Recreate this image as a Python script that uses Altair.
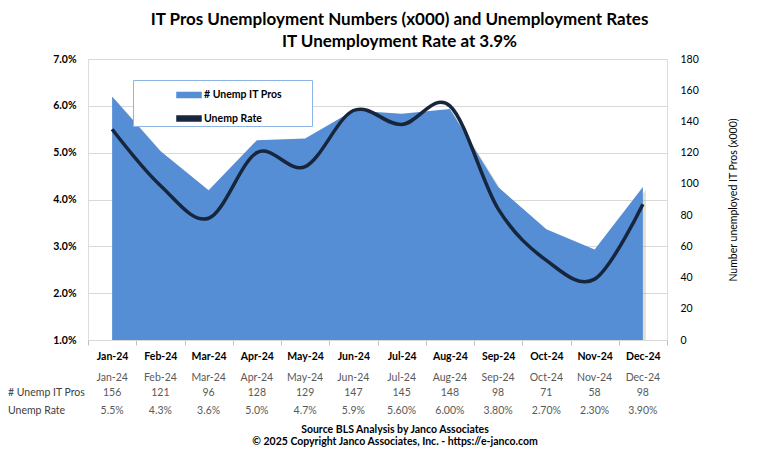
import altair as alt
import pandas as pd

months = ["Jan-24", "Feb-24", "Mar-24", "Apr-24", "May-24", "Jun-24",
          "Jul-24", "Aug-24", "Sep-24", "Oct-24", "Nov-24", "Dec-24"]
unemp_it_pros = [156, 121, 96, 128, 129, 147, 145, 148, 98, 71, 58, 98]
unemp_rate = [0.055, 0.043, 0.036, 0.050, 0.047, 0.059,
              0.056, 0.060, 0.038, 0.027, 0.023, 0.039]
rate_labels = ["5.5%", "4.3%", "3.6%", "5.0%", "4.7%", "5.9%",
               "5.60%", "6.00%", "3.80%", "2.70%", "2.30%", "3.90%"]
series_names = ["# Unemp IT Pros", "Unemp Rate"]
title_lines = ["IT Pros Unemployment Numbers (x000) and Unemployment Rates",
               "IT Unemployment Rate at 3.9%"]
footer_lines = ["Source BLS Analysis by Janco Associates",
                "\u00a9 2025 Copyright Janco Associates, Inc. - https://e-janco.com"]

df = pd.DataFrame({"month": months, "it": unemp_it_pros, "rate": unemp_rate,
                   "rate_lbl": rate_labels})
one = pd.DataFrame({"k": [0]})

W, H = 579, 281
FONT = "Lato"
FS = 10.5
BLUE = "#558ED5"
NAVY = "#17253D"
PAD = "\u00a0" * 11 + "\u200b"

xscale = alt.Scale(type="band", domain=months, paddingInner=0, paddingOuter=0)
x_axis = alt.X("month:N", scale=xscale, bandPosition=0.5,
               axis=alt.Axis(title=None, labelAngle=0, labelFont=FONT, labelFontSize=FS,
                             labelFontWeight="bold", labelColor="#000000", labelPadding=6,
                             tickBand="extent", tickColor="#BFBFBF", tickSize=5,
                             domainColor="#D9D9D9", grid=False))

color = alt.Color("s:N", scale=alt.Scale(domain=series_names, range=[BLUE, NAVY]),
                  legend=alt.Legend(title=None, orient="none", legendX=45, legendY=21,
                                    fillColor="white", strokeColor="#8EB4E3", padding=2,
                                    rowPadding=4.5, symbolOffset=41, symbolSize=576,
                                    symbolType="M-1,-0.2H1V0.2H-1Z", labelOffset=2,
                                    labelFont=FONT, labelFontSize=FS, labelFontWeight="bold",
                                    labelColor="#000000",
                                    labelExpr="datum.label + '" + PAD + "'"))

y_right = alt.Y("it:Q", scale=alt.Scale(domain=[0, 180], nice=False),
                axis=alt.Axis(orient="right", title="Number unemployed IT Pros (x000)",
                              values=list(range(0, 181, 20)), grid=False, domain=False,
                              ticks=False, labelFont=FONT, labelFontSize=FS,
                              labelColor="#000000", labelPadding=13, titleFont=FONT,
                              titleFontSize=FS, titleFontWeight="normal", titleAngle=270,
                              titleColor="#000000", titlePadding=40))
y_left = alt.Y("rate:Q", scale=alt.Scale(domain=[0.01, 0.07], nice=False, zero=False),
               axis=alt.Axis(orient="left", title=None, format=".1%",
                             values=[0.01, 0.02, 0.03, 0.04, 0.05, 0.06, 0.07],
                             grid=True, gridColor="#D9D9D9", domain=False, ticks=False,
                             labelFont=FONT, labelFontSize=FS, labelFontWeight="bold",
                             labelColor="#000000", labelPadding=12))

base = alt.Chart(df)

shadow = base.mark_area(color="#9E9A6E", opacity=0.3, xOffset=3, yOffset=3, clip=True).encode(
    x=x_axis, y=alt.Y("it:Q", scale=alt.Scale(domain=[0, 180], nice=False), axis=None))
area = base.mark_area().encode(x=x_axis, y=y_right, color=color).transform_calculate(
    s="'# Unemp IT Pros'")
line = base.mark_line(interpolate="cardinal", strokeWidth=3.5).encode(
    x=x_axis, y=y_left, color=color).transform_calculate(s="'Unemp Rate'")

def row(field, ypx, color_, weight="normal"):
    return base.mark_text(font=FONT, fontSize=FS, color=color_, fontWeight=weight,
                          baseline="middle").encode(x=x_axis, y=alt.value(ypx),
                                                    text=f"{field}:N")

month_row = row("month", 319, "#595959")
count_row = row("it", 334, "#595959")
rate_row = row("rate_lbl", 352, "#595959")

lbl1 = alt.Chart(one).mark_text(font=FONT, fontSize=FS, color="#404040", align="left",
                                baseline="middle").encode(
    x=alt.value(-80), y=alt.value(334), text=alt.value(series_names[0]))
lbl2 = alt.Chart(one).mark_text(font=FONT, fontSize=FS, color="#404040", align="left",
                                baseline="middle").encode(
    x=alt.value(-80), y=alt.value(352), text=alt.value(series_names[1]))
footer = alt.Chart(one).mark_text(font=FONT, fontSize=FS, fontWeight="bold", color="#000000",
                                  align="center", baseline="middle", lineHeight=11.5).encode(
    x=alt.value(307), y=alt.value(371), text=alt.value(footer_lines))

chart = alt.layer(shadow, area, line, month_row, count_row, rate_row, lbl1, lbl2, footer).resolve_scale(
    y="independent").properties(
    width=W, height=H,
    title=alt.Title(title_lines, font=FONT, fontSize=17, fontWeight="bold", lineHeight=22,
                    anchor="middle", dx=22, offset=3, color="#000000"),
    padding={"left": 80, "top": 51, "right": 84, "bottom": 107},
    autosize=alt.AutoSizeParams(type="none"),
).configure_view(fill="#FFFFCC", stroke=None).configure(background="white")

chart.save("out.html", embed_options={"renderer": "svg", "actions": False})
